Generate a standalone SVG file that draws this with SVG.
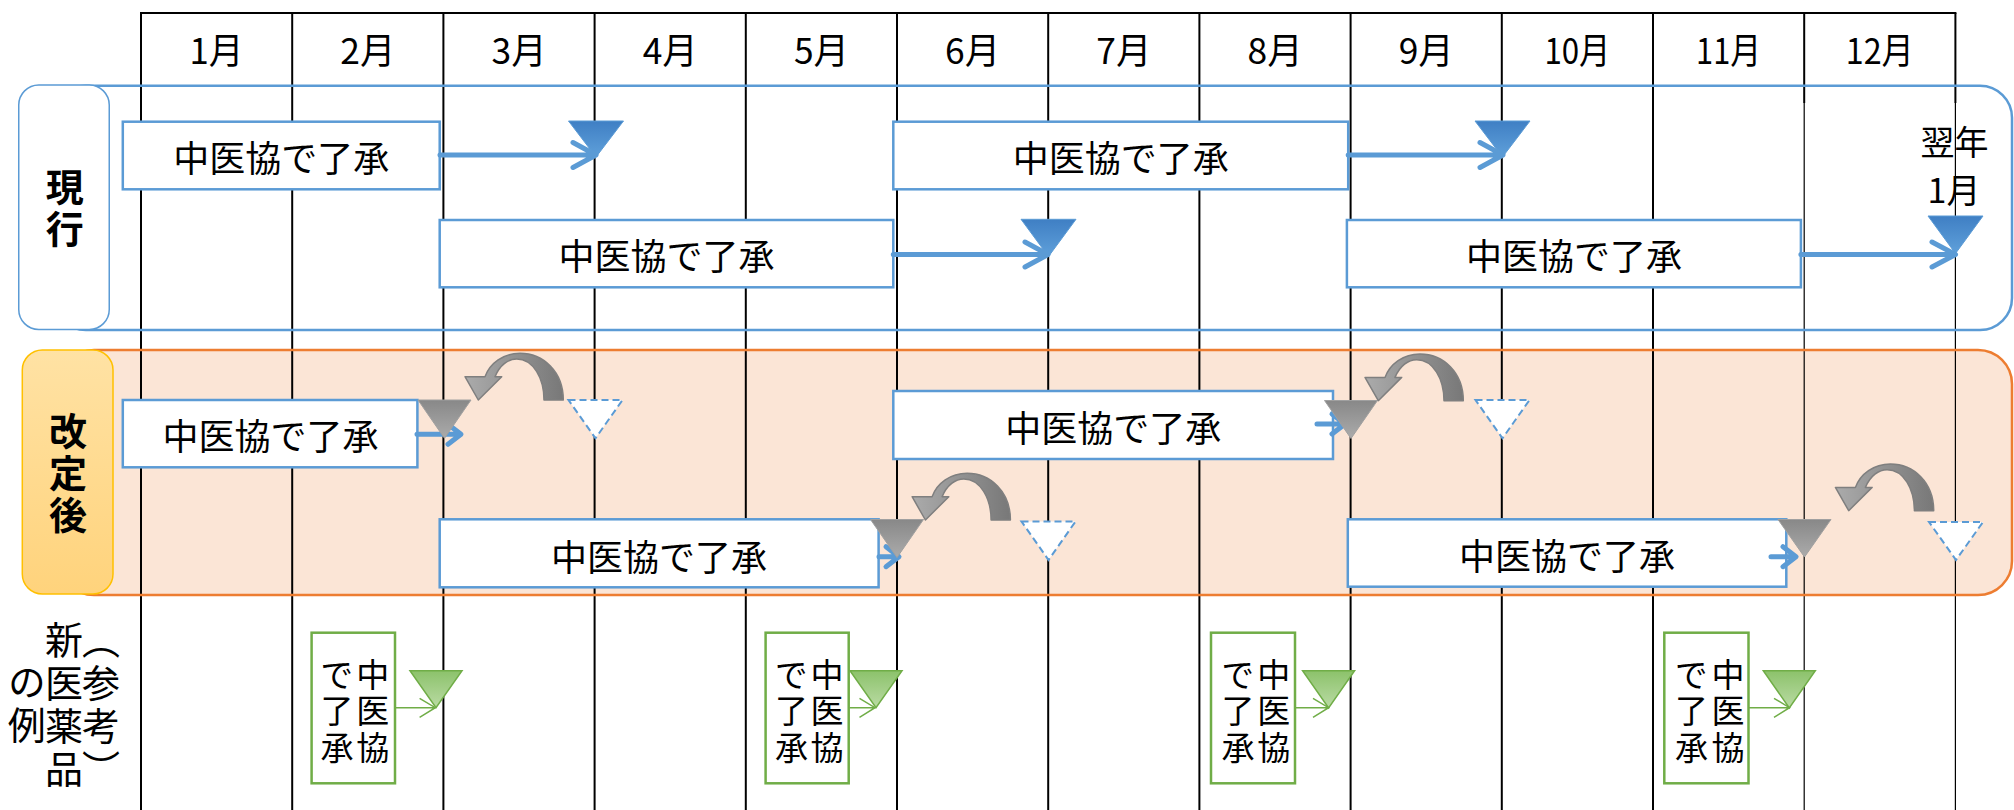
<svg xmlns="http://www.w3.org/2000/svg" width="2014" height="810" viewBox="0 0 2014 810">
<style>
text{font-family:"Noto Sans CJK JP","Noto Sans CJK SC",sans-serif;fill:#000;dominant-baseline:central;text-anchor:middle}
.v{writing-mode:vertical-rl}
.mon{font-size:36px}
.lbl{font-size:36px}
.hd{font-size:38px;font-weight:700;letter-spacing:4px}
.vt{font-size:33px;letter-spacing:3.5px}
.bl{font-size:38px;letter-spacing:5px}
.grid{stroke:#000;stroke-width:2;fill:none}
.thin{stroke:#000;stroke-width:1.2;fill:none}
.bbox{fill:#fff;stroke:#5b9bd5;stroke-width:2.5}
.gbox{fill:#fff;stroke:#70ad47;stroke-width:2.5}
.barr{fill:none;stroke:#5b9bd5;stroke-width:5;stroke-linecap:round;stroke-linejoin:round}
.barr2{fill:none;stroke:#5b9bd5;stroke-width:5;stroke-linecap:round;stroke-linejoin:round}
.garr{fill:none;stroke:#70ad47;stroke-width:1.5}
.btri{fill:url(#gBlue);stroke:#5b9bd5;stroke-width:1}
.gytri{fill:url(#gGray);stroke:#a0a0a0;stroke-width:1}
.dtri{fill:#fff;stroke:#5b9bd5;stroke-width:2;stroke-dasharray:7 4}
.grtri{fill:url(#gGreen);stroke:#70ad47;stroke-width:1.5}
.curv{fill:url(#gCurve);stroke:#7f7f7f;stroke-width:1.5;stroke-linejoin:round}
</style>
<defs>
<linearGradient id="gBlue" x1="0" y1="0" x2="0" y2="1"><stop offset="0" stop-color="#3f7fc4"/><stop offset="1" stop-color="#5fa0da"/></linearGradient>
<linearGradient id="gGray" x1="0" y1="0" x2="0" y2="1"><stop offset="0" stop-color="#888"/><stop offset="1" stop-color="#ababab"/></linearGradient>
<linearGradient id="gGreen" x1="0" y1="0" x2="0" y2="1"><stop offset="0" stop-color="#8cc26b"/><stop offset="1" stop-color="#badba4"/></linearGradient>
<linearGradient id="gCurve" x1="0" y1="0" x2="1" y2="0"><stop offset="0" stop-color="#ababab"/><stop offset="1" stop-color="#787878"/></linearGradient>
<linearGradient id="gLabel" x1="0" y1="0" x2="0" y2="1"><stop offset="0" stop-color="#ffe2a4"/><stop offset="1" stop-color="#ffd37c"/></linearGradient>
<path id="uturn" class="curv" d="M85,0 C85,-28.3 65,-46.7 41.7,-46.7 C25,-46.7 11.7,-36.7 6.7,-23.3 L-13.3,-23.3 L0,0 L23.4,-23.3 L16.7,-23.3 C21.7,-35 30,-41 38.4,-41 C55,-41 65.7,-21.7 65.7,0 Z"/>
</defs>

<g id="lane-bg">
<rect x="60" y="350" width="1952" height="245" rx="34" fill="#fbe5d6"/>
</g>

<g id="grid">
<line class="grid" x1="140" y1="13" x2="1956.4" y2="13"/>
<line class="grid" x1="141" y1="13" x2="141" y2="810"/>
<line class="grid" x1="292.2" y1="13" x2="292.2" y2="810"/>
<line class="grid" x1="443.4" y1="13" x2="443.4" y2="810"/>
<line class="grid" x1="594.6" y1="13" x2="594.6" y2="810"/>
<line class="grid" x1="745.8" y1="13" x2="745.8" y2="810"/>
<line class="grid" x1="897" y1="13" x2="897" y2="810"/>
<line class="grid" x1="1048.2" y1="13" x2="1048.2" y2="810"/>
<line class="grid" x1="1199.4" y1="13" x2="1199.4" y2="810"/>
<line class="grid" x1="1350.6" y1="13" x2="1350.6" y2="810"/>
<line class="grid" x1="1501.8" y1="13" x2="1501.8" y2="810"/>
<line class="grid" x1="1653" y1="13" x2="1653" y2="810"/>
<line class="grid" x1="1804.2" y1="13" x2="1804.2" y2="103"/>
<line class="thin" x1="1804.2" y1="103" x2="1804.2" y2="810"/>
<line class="grid" x1="1955.4" y1="13" x2="1955.4" y2="103"/>
<line class="thin" x1="1955.4" y1="103" x2="1955.4" y2="810"/>
</g>

<g id="months">
<text class="mon" x="216.6" y="48.3" textLength="54" lengthAdjust="spacingAndGlyphs">1月</text>
<text class="mon" x="367.8" y="48.3" textLength="55" lengthAdjust="spacingAndGlyphs">2月</text>
<text class="mon" x="519" y="48.3" textLength="55" lengthAdjust="spacingAndGlyphs">3月</text>
<text class="mon" x="670.2" y="48.3" textLength="55" lengthAdjust="spacingAndGlyphs">4月</text>
<text class="mon" x="821.4" y="48.3" textLength="55" lengthAdjust="spacingAndGlyphs">5月</text>
<text class="mon" x="972.6" y="48.3" textLength="55" lengthAdjust="spacingAndGlyphs">6月</text>
<text class="mon" x="1123.8" y="48.3" textLength="55" lengthAdjust="spacingAndGlyphs">7月</text>
<text class="mon" x="1275" y="48.3" textLength="55" lengthAdjust="spacingAndGlyphs">8月</text>
<text class="mon" x="1426.2" y="48.3" textLength="55" lengthAdjust="spacingAndGlyphs">9月</text>
<text class="mon" x="1577.4" y="48.3" textLength="66" lengthAdjust="spacingAndGlyphs">10月</text>
<text class="mon" x="1728.6" y="48.3" textLength="65" lengthAdjust="spacingAndGlyphs">11月</text>
<text class="mon" x="1879.8" y="48.3" textLength="68" lengthAdjust="spacingAndGlyphs">12月</text>
</g>

<g id="lane-current">
<rect x="54" y="85.7" width="1958" height="244.3" rx="32" fill="none" stroke="#5b9bd5" stroke-width="2.5"/>
</g>
<g id="lane-revised">
<rect x="60" y="350" width="1952" height="245" rx="34" fill="none" stroke="#ed7d31" stroke-width="2.5"/>
</g>

<g id="label-current">
<rect x="18.75" y="85" width="90.5" height="244.5" rx="20" fill="#fff" stroke="#5b9bd5" stroke-width="1.5"/>
<text class="hd v" x="64.7" y="209.5">現行</text>
</g>
<g id="label-revised">
<rect x="22.3" y="350" width="90.7" height="244" rx="20" fill="url(#gLabel)" stroke="#ffc000" stroke-width="1.5"/>
<text class="hd v" x="68" y="475">改定後</text>
</g>
<g id="label-new">
<text class="bl v" x="101" y="707">（参考）</text>
<text class="bl v" x="64" y="707">新医薬品</text>
<text class="bl v" x="26.7" y="705.5">の例</text>
</g>

<g id="cur-box1"><rect class="bbox" x="122.8" y="121.7" width="316.9" height="67.6"/><text class="lbl" x="281.2" y="155.5">中医協で了承</text></g>
<g id="cur-box2"><rect class="bbox" x="439.7" y="220" width="453.6" height="67.3"/><text class="lbl" x="666.5" y="253.6">中医協で了承</text></g>
<g id="cur-box3"><rect class="bbox" x="893.3" y="121.7" width="454.9" height="67.6"/><text class="lbl" x="1120.8" y="155.5">中医協で了承</text></g>
<g id="cur-box4"><rect class="bbox" x="1346.9" y="220" width="454" height="67.3"/><text class="lbl" x="1573.9" y="253.6">中医協で了承</text></g>

<g id="cur-marks">
<polygon class="btri" points="568.5,121 623.5,121 596,157"/>
<polygon class="btri" points="1021,219.3 1076,219.3 1048.5,256.5"/>
<polygon class="btri" points="1475,121 1530,121 1502.5,157"/>
<polygon class="btri" points="1928,216 1983,216 1955.5,253.5"/>
</g>
<g id="next-jan"><text style="font-size:34px" x="1954.5" y="140">翌年</text><text style="font-size:34px" x="1954" y="188">1月</text></g>

<g id="rev-box1"><rect class="bbox" x="122.8" y="400" width="294.6" height="67.3"/><text class="lbl" x="270.5" y="433.5">中医協で了承</text></g>
<g id="rev-box2"><rect class="bbox" x="439.7" y="519.3" width="438.9" height="68"/><text class="lbl" x="659" y="554.5">中医協で了承</text></g>
<g id="rev-box3"><rect class="bbox" x="893.3" y="391" width="439.7" height="68"/><text class="lbl" x="1113.2" y="426">中医協で了承</text></g>
<g id="rev-box4"><rect class="bbox" x="1347.8" y="519.3" width="438.5" height="67.4"/><text class="lbl" x="1567" y="554">中医協で了承</text></g>

<g id="new-box1"><rect class="gbox" x="311.6" y="632.7" width="83.4" height="150.6"/>
<text class="vt v" x="372.8" y="712.3">中医協</text><text class="vt v" x="337" y="712.3">で了承</text></g>
<g id="new-box2"><rect class="gbox" x="765.6" y="632.7" width="83.1" height="150.6"/>
<text class="vt v" x="827" y="712.3">中医協</text><text class="vt v" x="791.5" y="712.3">で了承</text></g>
<g id="new-box3"><rect class="gbox" x="1211" y="632.7" width="84" height="150.6"/>
<text class="vt v" x="1273.7" y="712.3">中医協</text><text class="vt v" x="1238" y="712.3">で了承</text></g>
<g id="new-box4"><rect class="gbox" x="1664.3" y="632.7" width="84.2" height="150.6"/>
<text class="vt v" x="1728" y="712.3">中医協</text><text class="vt v" x="1691.6" y="712.3">で了承</text></g>

<g id="new-marks">
<polygon class="grtri" points="410,670.7 462,670.7 436,707.7"/>
<polygon class="grtri" points="850,670.7 902,670.7 876,707.7"/>
<polygon class="grtri" points="1302.6,670.7 1354.6,670.7 1328.6,708"/>
<polygon class="grtri" points="1763.3,670.7 1815.3,670.7 1789.3,708"/>
</g>

<g id="connectors">
<path class="barr" d="M440,155 H595 M573,142.5 L596,155 L573,167.5"/>
<path class="barr" d="M893.3,254.5 H1047 M1025,242 L1048,254.5 L1025,267"/>
<path class="barr" d="M1348.2,155 H1502 M1480,142.5 L1503,155 L1480,167.5"/>
<path class="barr" d="M1800.9,254.5 H1954 M1932,242 L1955.5,254.5 L1932,267"/>
<path class="barr2" d="M417,434.3 H460 M448,424.3 L461,434.3 L448,444.3"/>
<path class="barr2" d="M879,556.7 H897 M886,546.7 L899,556.7 L886,566.7"/>
<path class="barr2" d="M1317,424 H1343 M1332,414 L1345,424 L1332,434"/>
<path class="barr2" d="M1771,556.7 H1795 M1783,546.7 L1796,556.7 L1783,566.7"/>
<path class="garr" d="M395,707.7 H435 M419.6,698.3 L435.3,707.7 L419.6,717.3"/>
<path class="garr" d="M848.7,707.7 H875 M859.5,698.3 L875,707.7 L859.5,717.3"/>
<path class="garr" d="M1295,707.7 H1328.5 M1313,698.3 L1328.6,707.7 L1313,717.3"/>
<path class="garr" d="M1748.5,707.7 H1789.5 M1774,698.3 L1789.5,707.7 L1774,717.3"/>
</g>

<g id="rev-marks">
<polygon class="gytri" points="418,400 471,400 444.5,438.3"/>
<polygon class="gytri" points="870.5,519.5 923.5,519.5 897,557.5"/>
<polygon class="gytri" points="1324.5,400.5 1377.5,400.5 1351,438.5"/>
<polygon class="gytri" points="1778,519.5 1831,519.5 1804.5,557"/>
<polygon class="dtri" points="568.5,400 622.5,400 595.5,438.3"/>
<polygon class="dtri" points="1021.5,521.5 1075.5,521.5 1048.5,560"/>
<polygon class="dtri" points="1475.5,400 1529.5,400 1502.5,438.3"/>
<polygon class="dtri" points="1929,522 1983,522 1956,560"/>
</g>

<g id="shift-arrows">
<use href="#uturn" x="478.3" y="400"/>
<use href="#uturn" x="925.4" y="520"/>
<use href="#uturn" x="1378.3" y="400.7"/>
<use href="#uturn" x="1848.7" y="510.7"/>
</g>
</svg>
